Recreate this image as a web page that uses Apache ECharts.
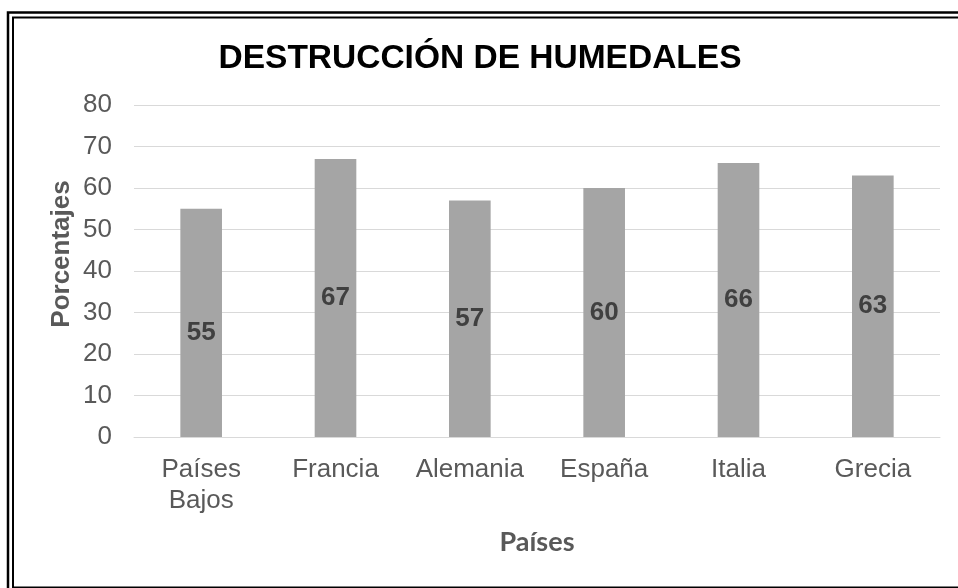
<!DOCTYPE html>
<html>
<head>
<meta charset="utf-8">
<script src="https://cdn.jsdelivr.net/npm/echarts@6/dist/echarts.min.js"></script>
<style>
html,body{margin:0;padding:0;background:#fff;}
#c{width:958px;height:588px;}
</style>
</head>
<body>
<div id="c"></div>
<script>
const categories = ['Países\nBajos', 'Francia', 'Alemania', 'España', 'Italia', 'Grecia'];
const values = [55, 67, 57, 60, 66, 63];
const yTicks = { min: 0, max: 80, interval: 10 };

const seriesData = values.map((v, i) => i === 0 ? { value: v, label: { offset: [0, 10] } } : v);

const chart = echarts.init(document.getElementById('c'));
chart.setOption({
  animation: false,
  backgroundColor: '#fff',
  title: {
    text: 'DESTRUCCIÓN DE HUMEDALES',
    left: 475, top: 37, textAlign: 'center',
    textStyle: { fontFamily: 'Liberation Sans', fontWeight: 'bold', fontSize: 33.5, color: '#000' }
  },
  grid: { left: 134, right: 18, top: 105, bottom: 151 },
  xAxis: {
    type: 'category',
    data: categories,
    name: 'Países',
    nameLocation: 'middle',
    nameGap: 92,
    nameMoveOverlap: false,
    nameTextStyle: { fontFamily: 'Lato', fontWeight: 'bold', fontSize: 27, color: '#595959' },
    axisLine: { lineStyle: { color: '#d9d9d9', width: 1 } },
    axisTick: { show: false },
    axisLabel: { fontFamily: 'Liberation Sans', fontSize: 26, color: '#595959', margin: 17, lineHeight: 31, interval: 0 }
  },
  yAxis: {
    type: 'value',
    min: yTicks.min, max: yTicks.max, interval: yTicks.interval,
    name: 'Porcentajes',
    nameLocation: 'middle',
    nameGap: 59,
    nameMoveOverlap: false,
    nameTextStyle: { fontFamily: 'Liberation Sans', fontWeight: 'bold', fontSize: 26, color: '#595959', padding: [0, 0, 0, 34] },
    axisLine: { show: false },
    axisTick: { show: false },
    splitLine: { lineStyle: { color: '#d9d9d9', width: 1 } },
    axisLabel: { fontFamily: 'Liberation Sans', fontSize: 26, color: '#595959', margin: 22 }
  },
  series: [{
    type: 'bar',
    data: seriesData,
    barWidth: '31%',
    itemStyle: { color: '#a5a5a5' },
    label: {
      show: true, position: 'inside',
      fontFamily: 'Liberation Sans', fontWeight: 'bold', fontSize: 26, color: '#404040'
    }
  }],
  graphic: [
    { type: 'rect', shape: { x: 8, y: 12.5, width: 990, height: 640 }, style: { fill: null, stroke: '#000', lineWidth: 2.5 }, z: 100 },
    { type: 'rect', shape: { x: 13, y: 17.5, width: 980, height: 570 }, style: { fill: null, stroke: '#000', lineWidth: 2 }, z: 100 }
  ]
});
</script>
</body>
</html>
